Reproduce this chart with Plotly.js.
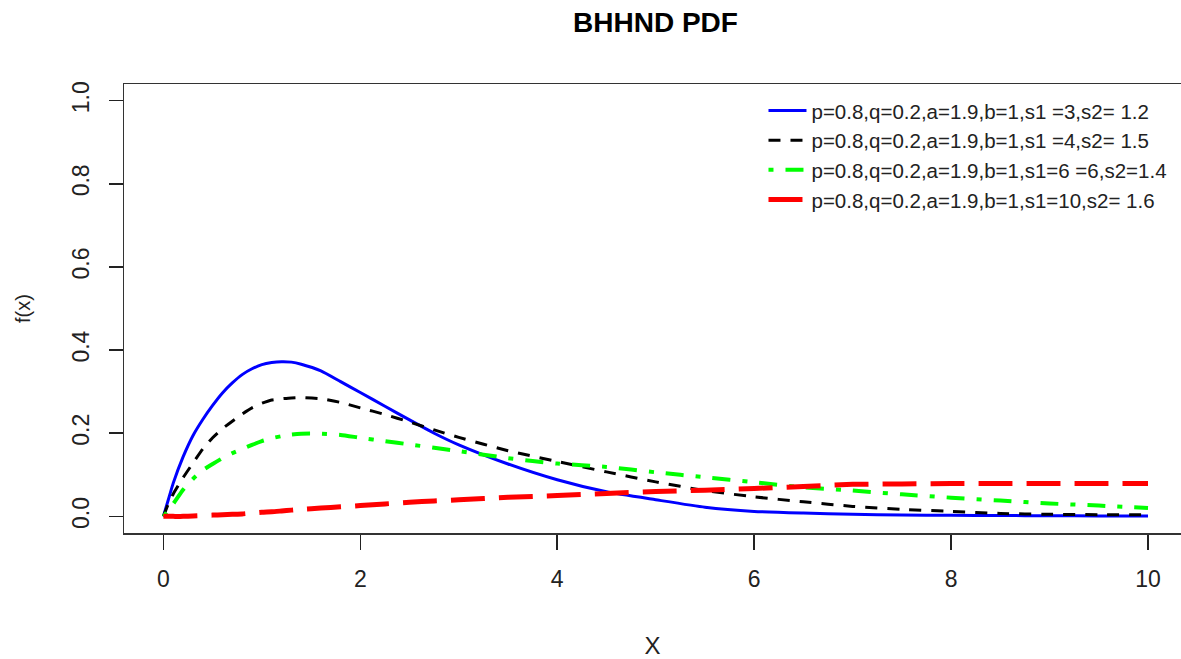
<!DOCTYPE html>
<html>
<head>
<meta charset="utf-8">
<script src="https://cdn.plot.ly/plotly-3.0.1.min.js"></script>
<style>html,body{margin:0;padding:0;background:#fff;}#chart{width:1181px;height:659px;}</style>
</head>
<body>
<div id="chart"></div>
<script>
var xVals = [0, 0.05, 0.1, 0.2, 0.3, 0.4, 0.5, 0.6, 0.7, 0.8, 0.9, 1, 1.1, 1.2, 1.3, 1.4, 1.6, 1.8, 2, 2.25, 2.5, 2.75, 3, 3.5, 4, 4.5, 5, 5.5, 6, 6.5, 7, 7.5, 8, 8.5, 9, 9.5, 10];
var blueVals = [0, 0.040, 0.080, 0.143, 0.194, 0.233, 0.267, 0.297, 0.321, 0.341, 0.355, 0.365, 0.370, 0.372, 0.371, 0.366, 0.350, 0.324, 0.298, 0.265, 0.232, 0.200, 0.172, 0.126, 0.088, 0.059, 0.040, 0.022, 0.012, 0.008, 0.005, 0.0035, 0.0025, 0.002, 0.0015, 0.001, 0.001];
var blackVals = [0, 0.030, 0.054, 0.093, 0.128, 0.162, 0.189, 0.211, 0.229, 0.246, 0.261, 0.272, 0.280, 0.283, 0.285, 0.286, 0.283, 0.274, 0.261, 0.245, 0.227, 0.208, 0.190, 0.158, 0.132, 0.107, 0.083, 0.062, 0.047, 0.035, 0.024, 0.017, 0.012, 0.007, 0.005, 0.004, 0.004];
var greenVals = [0, 0.015, 0.030, 0.064, 0.090, 0.111, 0.126, 0.140, 0.152, 0.162, 0.172, 0.181, 0.188, 0.193, 0.197, 0.199, 0.199, 0.196, 0.189, 0.181, 0.173, 0.165, 0.157, 0.140, 0.127, 0.119, 0.106, 0.094, 0.082, 0.070, 0.062, 0.053, 0.045, 0.038, 0.031, 0.026, 0.020];
var redVals = [0, 0, 0, 0, 0.001, 0.002, 0.003, 0.004, 0.005, 0.006, 0.008, 0.010, 0.011, 0.013, 0.015, 0.017, 0.020, 0.023, 0.026, 0.030, 0.034, 0.037, 0.040, 0.046, 0.050, 0.055, 0.060, 0.063, 0.067, 0.072, 0.077, 0.078, 0.079, 0.079, 0.079, 0.079, 0.079];
var seriesNames = [
  "p=0.8,q=0.2,a=1.9,b=1,s1 =3,s2= 1.2",
  "p=0.8,q=0.2,a=1.9,b=1,s1 =4,s2= 1.5",
  "p=0.8,q=0.2,a=1.9,b=1,s1=6 =6,s2=1.4",
  "p=0.8,q=0.2,a=1.9,b=1,s1=10,s2= 1.6"
];
var xTicks = [0, 2, 4, 6, 8, 10];
var yTicks = [0, 0.2, 0.4, 0.6, 0.8, 1.0];
var yTickText = ["0.0", "0.2", "0.4", "0.6", "0.8", "1.0"];

var FONT = "Liberation Sans, Arial, sans-serif";

var traces = [
  {x: xVals, y: blueVals, name: seriesNames[0], mode: "lines",
   line: {color: "#0000ff", width: 3, shape: "spline", smoothing: 0.5}},
  {x: xVals, y: blackVals, name: seriesNames[1], mode: "lines",
   line: {color: "#000000", width: 3, dash: "12px,10px", shape: "spline", smoothing: 0.5}},
  {x: xVals, y: greenVals, name: seriesNames[2], mode: "lines",
   line: {color: "#00ff00", width: 4, dash: "5px,12px,18px,12px", shape: "spline", smoothing: 0.5}},
  {x: xVals, y: redVals, name: seriesNames[3], mode: "lines",
   line: {color: "#ff0000", width: 5, dash: "34px,14px", shape: "spline", smoothing: 0.5}}
];

var layout = {
  width: 1181, height: 659,
  margin: {l: 124, r: 0, t: 84, b: 126},
  paper_bgcolor: "#fff", plot_bgcolor: "#fff",
  font: {family: FONT, color: "#000", size: 20},
  showlegend: true,
  title: {text: "<b>BHHND PDF</b>", font: {family: FONT, size: 28, color: "#000"},
          xref: "container", yref: "container", x: 0.555, y: 1 - 22/659,
          xanchor: "center", yanchor: "middle"},
  xaxis: {range: [-0.4, 10.335], tickvals: xTicks, ticks: "outside", ticklen: 15, tickwidth: 1.5,
          tickcolor: "#222", showline: true, mirror: true, linecolor: "#333", linewidth: 1.5,
          showgrid: false, zeroline: false, tickfont: {size: 23, color: "#222"},
          ticklabelstandoff: 10,
          title: {text: "X", font: {size: 24, color: "#222"}, standoff: 48}},
  yaxis: {range: [-0.04, 1.04], tickvals: yTicks, ticktext: yTickText, ticks: "outside", ticklen: 14,
          tickwidth: 1.5, tickcolor: "#222", tickangle: -90, showline: true, mirror: false,
          linecolor: "#333", linewidth: 1.5, showgrid: false, zeroline: false,
          tickfont: {size: 23, color: "#222"}, ticklabelstandoff: 10,
          title: {text: "f(x)", font: {size: 20, color: "#222"}, standoff: 32}},
  legend: {x: 0.605, y: 0.985, xanchor: "left", yanchor: "top", bgcolor: "rgba(0,0,0,0)",
           borderwidth: 0, font: {size: 20.5, color: "#222"}, itemwidth: 38, tracegroupgap: 0}
};

Plotly.newPlot("chart", traces, layout, {displayModeBar: false, staticPlot: true});
</script>
</body>
</html>
